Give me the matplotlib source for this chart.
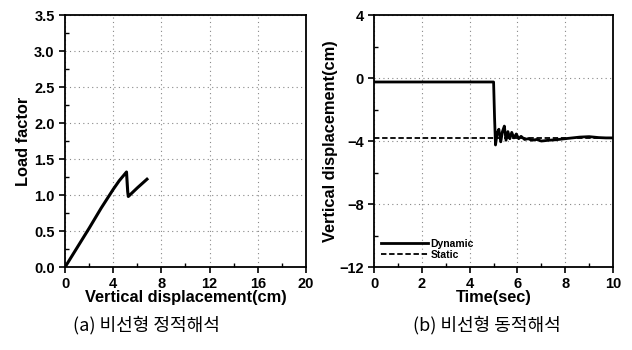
import matplotlib
matplotlib.use('Agg')
import matplotlib.pyplot as plt
from matplotlib.ticker import MultipleLocator, FormatStrFormatter

# (a) nonlinear static analysis
static_disp = [0.0, 1.0, 2.0, 3.0, 4.0, 4.5, 5.1, 5.2, 5.25, 6.0, 6.8]
static_load = [0.0, 0.27, 0.54, 0.82, 1.08, 1.2, 1.32, 1.05, 0.98, 1.1, 1.22]

# (b) nonlinear dynamic analysis
dyn_time = [0.0, 5.0, 5.04, 5.08, 5.15, 5.22, 5.3, 5.37, 5.45, 5.52, 5.6, 5.68, 5.76,
            5.85, 5.95, 6.05, 6.15, 6.3, 6.45, 6.6, 6.8, 7.0, 7.3, 7.6, 8.0, 8.3, 8.6,
            9.0, 9.4, 9.7, 10.0]
dyn_disp = [-0.25, -0.25, -2.5, -4.25, -3.5, -3.25, -4.05, -3.4, -3.05, -3.95, -3.4,
            -3.85, -3.45, -3.8, -3.55, -3.85, -3.7, -3.9, -3.85, -3.95, -3.9, -4.0,
            -3.95, -3.92, -3.85, -3.8, -3.75, -3.72, -3.78, -3.8, -3.8]
static_time = [0.0, 10.0]
static_level = [-3.8, -3.8]

fig = plt.figure(figsize=(6.32, 3.5), dpi=100)
ax1 = fig.add_axes([0.103, 0.237, 0.381, 0.72])
ax2 = fig.add_axes([0.592, 0.237, 0.378, 0.72])

bold = dict(fontsize=11.8, fontweight='bold', family='Liberation Sans')


def style_axes(ax):
    for sp in ax.spines.values():
        sp.set_linewidth(1.3)
    ax.tick_params(which='major', direction='out', length=4, width=1.2, labelsize=10.5)
    ax.tick_params(which='minor', direction='in', length=3, width=1.0)
    for lab in ax.get_xticklabels() + ax.get_yticklabels():
        lab.set_fontweight('bold')
        lab.set_family('Liberation Sans')
    ax.grid(True, which='major', linestyle=(0, (1, 3)), color='#888888', linewidth=0.8)


ax1.plot(static_disp, static_load, color='black', linewidth=2.2)
ax1.set_xlim(0, 20)
ax1.set_ylim(0, 3.5)
ax1.xaxis.set_major_locator(MultipleLocator(4))
ax1.xaxis.set_minor_locator(MultipleLocator(2))
ax1.yaxis.set_major_locator(MultipleLocator(0.5))
ax1.yaxis.set_minor_locator(MultipleLocator(0.25))
ax1.yaxis.set_major_formatter(FormatStrFormatter('%.1f'))
ax1.set_xlabel('Vertical displacement(cm)', labelpad=-1, **bold)
ax1.set_ylabel('Load factor', labelpad=2, **bold)
style_axes(ax1)

ax2.plot(dyn_time, dyn_disp, color='black', linewidth=2.0, label='Dynamic')
ax2.plot(static_time, static_level, color='black', linewidth=1.3,
         linestyle=(0, (3, 1.5)), label='Static')
ax2.set_xlim(0, 10)
ax2.set_ylim(-12, 4)
ax2.xaxis.set_major_locator(MultipleLocator(2))
ax2.xaxis.set_minor_locator(MultipleLocator(1))
ax2.yaxis.set_major_locator(MultipleLocator(4))
ax2.yaxis.set_minor_locator(MultipleLocator(2))
ax2.set_xlabel('Time(sec)', labelpad=-1, **bold)
ax2.set_ylabel('Vertical displacement(cm)', labelpad=1, **bold)
style_axes(ax2)
ax2.legend(loc='lower left', frameon=False, handlelength=4.5, handletextpad=0.2,
           labelspacing=0.1, borderaxespad=0.3,
           prop={'size': 7.5, 'weight': 'bold', 'family': 'Liberation Sans'})

fig.text(0.232, 0.07, '(a) 비선형 정적해석', ha='center', va='center',
         fontsize=13, family=['Noto Sans CJK KR', 'DejaVu Sans'])
fig.text(0.771, 0.07, '(b) 비선형 동적해석', ha='center', va='center',
         fontsize=13, family=['Noto Sans CJK KR', 'DejaVu Sans'])

fig.savefig('out.png', dpi=100)
